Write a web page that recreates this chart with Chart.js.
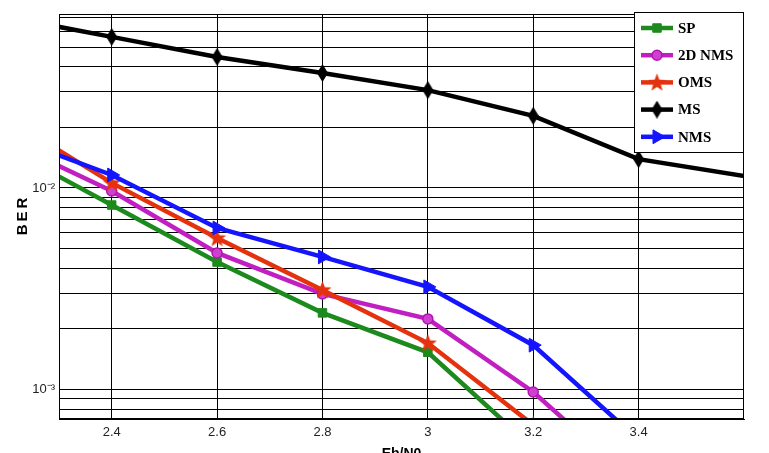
<!DOCTYPE html>
<html>
<head>
<meta charset="utf-8">
<title>BER vs Eb/N0</title>
<script src="https://cdn.jsdelivr.net/npm/chart.js@4.4.1/dist/chart.umd.min.js"></script>
<style>
  html, body { margin: 0; padding: 0; background: #fff; overflow: hidden; }
  #wrap { position: relative; width: 769px; height: 470px; }
</style>
</head>
<body>
<div id="wrap"><canvas id="berChart"></canvas></div>
<script>
// ============================================================
// Data
// ============================================================

const ebN0 = [2.2, 2.4, 2.6, 2.8, 3.0, 3.2, 3.4, 3.8];

const berSP    = [0.0158, 0.00823, 0.00429, 0.00240, 0.00153, 0.000513, null, null];
const ber2DNMS = [0.0171, 0.00966, 0.00476, 0.00298, 0.00224, 0.000972, 0.000332, null];
const berOMS   = [0.0223, 0.0106, 0.00565, 0.00312, 0.00170, 0.000667, null, null];
const berMS    = [0.0706, 0.0562, 0.0447, 0.0372, 0.0306, 0.0228, 0.0139, 0.00945];
const berNMS   = [0.0182, 0.0116, 0.00633, 0.00455, 0.00323, 0.00166, 0.000562, null];

const seriesNames = ['SP', '2D NMS', 'OMS', 'MS', 'NMS'];

const xTicks = [2.4, 2.6, 2.8, 3.0, 3.2, 3.4];
const yTicks = [
  0.0008, 0.0009,
  0.001, 0.002, 0.003, 0.004, 0.005, 0.006, 0.007, 0.008, 0.009,
  0.01, 0.02, 0.03, 0.04, 0.05, 0.06, 0.07
];
const yTickLabels = { '0.001': '10\u207B\u00B3', '0.01': '10\u207B\u00B2' };

// ============================================================
// Marker images (shapes Chart.js has no built-in for)
// ============================================================

function makeMarker(w, h, color, drawPath) {
  const c = document.createElement('canvas');
  c.width = w;
  c.height = h;
  const ctx = c.getContext('2d');
  ctx.fillStyle = color;
  ctx.beginPath();
  drawPath(ctx, w, h);
  ctx.closePath();
  ctx.fill();
  return c;
}

const starMarker = makeMarker(19, 19, '#e5320e', (ctx, w, h) => {
  const cx = w / 2, cy = h / 2 + 0.5, ro = 9.5, ri = 4;
  for (let i = 0; i < 10; i++) {
    const r = i % 2 === 0 ? ro : ri;
    const a = -Math.PI / 2 + i * Math.PI / 5;
    const px = cx + r * Math.cos(a), py = cy + r * Math.sin(a);
    if (i === 0) ctx.moveTo(px, py); else ctx.lineTo(px, py);
  }
});

const diamondMarker = makeMarker(11, 18, '#000000', (ctx, w, h) => {
  ctx.moveTo(w / 2, 0);
  ctx.lineTo(w, h / 2);
  ctx.lineTo(w / 2, h);
  ctx.lineTo(0, h / 2);
});

// ============================================================
// Plugins: plot frame + legend box inside the plot
// ============================================================

const framePlugin = {
  id: 'frame',
  afterDatasetsDraw(chart) {
    const { ctx, chartArea: a } = chart;
    ctx.save();
    ctx.strokeStyle = '#000';
    ctx.lineWidth = 1;
    ctx.strokeRect(a.left + 0.5, a.top + 0.5, a.right - a.left - 1, a.bottom - a.top - 1);
    ctx.restore();
  }
};

const boxLegendPlugin = {
  id: 'boxLegend',
  afterDraw(chart) {
    const { ctx, chartArea: a } = chart;
    const boxW = 110, boxH = 141;
    const left = a.right - boxW, top = a.top - 2;
    ctx.save();
    ctx.fillStyle = '#fff';
    ctx.fillRect(left, top, boxW, boxH);
    ctx.strokeStyle = '#000';
    ctx.lineWidth = 1;
    ctx.strokeRect(left + 0.5, top + 0.5, boxW - 1, boxH - 1);

    ctx.font = 'bold 15px "Liberation Serif", "Times New Roman", serif';
    ctx.textBaseline = 'middle';
    ctx.textAlign = 'left';

    chart.data.datasets.forEach((ds, i) => {
      const y = top + 16 + i * 27.2;
      const x0 = left + 7, x1 = left + 39, xm = (x0 + x1) / 2;
      ctx.strokeStyle = ds.borderColor;
      ctx.lineWidth = 4.5;
      ctx.beginPath();
      ctx.moveTo(x0, y);
      ctx.lineTo(x1, y);
      ctx.stroke();

      const style = ds.pointStyle;
      if (style instanceof HTMLCanvasElement) {
        ctx.drawImage(style, xm - style.width / 2, y - style.height / 2);
      } else if (Chart.helpers && Chart.helpers.drawPoint) {
        ctx.fillStyle = ds.pointBackgroundColor;
        ctx.strokeStyle = ds.pointBorderColor;
        ctx.lineWidth = ds.pointBorderWidth;
        Chart.helpers.drawPoint(ctx, {
          pointStyle: style,
          rotation: ds.pointRotation || 0,
          radius: ds.pointRadius,
          borderWidth: ds.pointBorderWidth
        }, xm, y);
      }

      ctx.fillStyle = '#000';
      ctx.fillText(ds.label, left + 44, y + 1);
    });
    ctx.restore();
  }
};

// ============================================================
// Chart
// ============================================================

function toPoints(values) {
  return ebN0
    .map((x, i) => ({ x: x, y: values[i] }))
    .filter(p => p.y !== null);
}

const tickFont = { family: '"Liberation Sans Narrow", "Liberation Sans", Arial, sans-serif', size: 13 };

new Chart(document.getElementById('berChart'), {
  type: 'line',
  data: {
    datasets: [
      {
        label: seriesNames[0],
        data: toPoints(berSP),
        borderColor: '#1d8a1d',
        pointStyle: 'rect',
        pointRadius: 6,
        pointBackgroundColor: '#1d8a1d',
        pointBorderColor: '#1d8a1d',
        pointBorderWidth: 1,
        order: 4
      },
      {
        label: seriesNames[1],
        data: toPoints(ber2DNMS),
        borderColor: '#c21fc2',
        pointStyle: 'circle',
        pointRadius: 5,
        pointBackgroundColor: '#d040d0',
        pointBorderColor: '#b015b0',
        pointBorderWidth: 1.5,
        order: 3
      },
      {
        label: seriesNames[2],
        data: toPoints(berOMS),
        borderColor: '#e5320e',
        pointStyle: starMarker,
        pointRadius: 9,
        pointBackgroundColor: '#e5320e',
        pointBorderColor: '#e5320e',
        pointBorderWidth: 0,
        order: 2
      },
      {
        label: seriesNames[3],
        data: toPoints(berMS),
        borderColor: '#000000',
        pointStyle: diamondMarker,
        pointRadius: 9,
        pointBackgroundColor: '#000000',
        pointBorderColor: '#000000',
        pointBorderWidth: 0,
        order: 1
      },
      {
        label: seriesNames[4],
        data: toPoints(berNMS),
        borderColor: '#1414ff',
        pointStyle: 'triangle',
        pointRotation: 90,
        pointRadius: 8,
        pointBackgroundColor: '#1414ff',
        pointBorderColor: '#1414ff',
        pointBorderWidth: 1,
        order: 0
      }
    ]
  },
  options: {
    responsive: true,
    maintainAspectRatio: false,
    animation: false,
    spanGaps: true,
    elements: {
      line: { borderWidth: 4.5, tension: 0, fill: false },
      point: { hoverRadius: 8 }
    },
    layout: { padding: { left: 0, top: 14, right: 25, bottom: 0 } },
    plugins: {
      legend: { display: false },
      tooltip: { enabled: false }
    },
    scales: {
      x: {
        type: 'linear',
        min: 2.3,
        max: 3.6,
        afterBuildTicks: scale => { scale.ticks = xTicks.map(v => ({ value: v })); },
        afterFit: scale => { scale.height = 51; },
        grid: { color: '#000', lineWidth: 1, drawTicks: false },
        border: { color: '#000', width: 1 },
        ticks: {
          autoSkip: false,
          maxRotation: 0,
          padding: 6,
          color: '#222',
          font: tickFont,
          callback: v => String(Math.round(v * 10) / 10)
        },
        title: {
          display: true,
          text: 'Eb/N0',
          color: '#000',
          font: { family: '"Liberation Sans", Arial, sans-serif', size: 14, weight: 'bold' },
          padding: { top: 0, bottom: 7 }
        }
      },
      y: {
        type: 'logarithmic',
        min: 0.000714,
        max: 0.0730,
        afterBuildTicks: scale => { scale.ticks = yTicks.map(v => ({ value: v })); },
        afterFit: scale => { scale.width = 59; },
        grid: { color: '#000', lineWidth: 1, drawTicks: false },
        border: { color: '#000', width: 1 },
        ticks: {
          autoSkip: false,
          padding: 4,
          color: '#222',
          font: tickFont,
          callback: v => yTickLabels[String(v)] || ''
        },
        title: {
          display: true,
          text: 'B\u2009E\u2009R',
          color: '#000',
          font: { family: '"Liberation Sans", Arial, sans-serif', size: 15, weight: 'bold' },
          padding: { top: 14, bottom: 0 }
        }
      }
    }
  },
  plugins: [framePlugin, boxLegendPlugin]
});
</script>
</body>
</html>
